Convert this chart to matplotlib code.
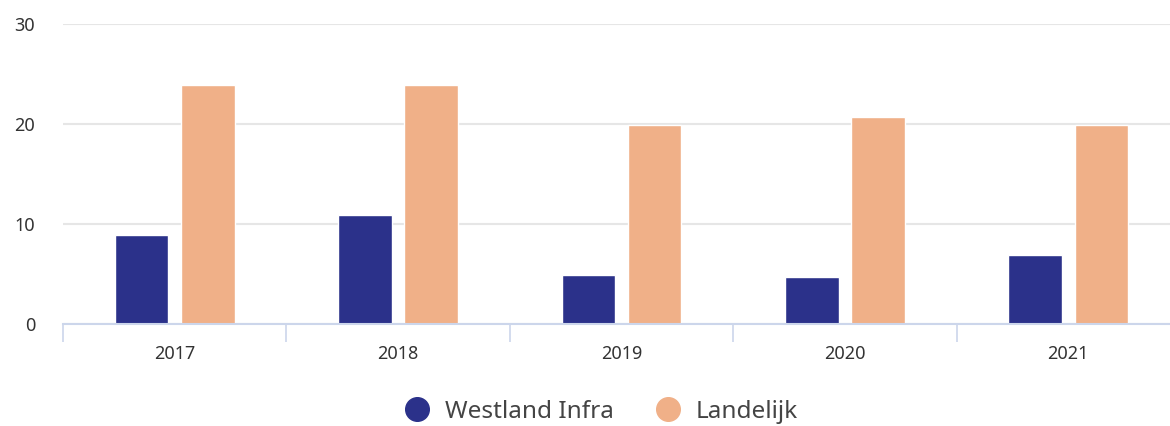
import matplotlib
matplotlib.use("Agg")
import matplotlib.pyplot as plt
from matplotlib.lines import Line2D
import numpy as np

years = ["2017", "2018", "2019", "2020", "2021"]
westland = [8.9, 10.9, 4.9, 4.7, 6.9]
landelijk = [23.9, 23.9, 19.9, 20.7, 19.9]
series_names = ["Westland Infra", "Landelijk"]
colors = ["#2B318A", "#F0B088"]

plt.rcParams['font.family'] = ['Noto Sans', 'DejaVu Sans']

W, H = 1170, 426
fig = plt.figure(figsize=(W / 100, H / 100), dpi=100)
ax = fig.add_axes([63 / W, (H - 324) / H, (1180 - 63) / W, 300 / H])

x = np.arange(len(years))
off = 0.148
bw = 0.24
ax.bar(x - off, westland, bw, color=colors[0], edgecolor="white", linewidth=1, zorder=3)
ax.bar(x + off, landelijk, bw, color=colors[1], edgecolor="white", linewidth=1, zorder=3)

ax.set_xlim(-0.5, len(years) - 0.5)
ax.set_ylim(0, 30)
ax.set_yticks([0, 10, 20, 30])
ax.yaxis.grid(True, color="#E6E6E6", linewidth=1.5, zorder=0)
ax.set_axisbelow(True)

for s in ["top", "right", "left"]:
    ax.spines[s].set_visible(False)
ax.spines["bottom"].set_color("#CCD6EB")
ax.spines["bottom"].set_linewidth(1.5)
ax.spines["bottom"].set_zorder(4)

ax.set_xticks(x)
ax.set_xticklabels(years)
ax.tick_params(axis="x", which="major", length=0, pad=15, labelsize=13, labelcolor="#333333")
ax.set_xticks(np.arange(len(years) + 1) - 0.5, minor=True)
ax.tick_params(axis="x", which="minor", length=13, width=1.2, color="#CCD6EB", direction="out")
ax.tick_params(axis="y", length=0, pad=20, labelsize=13, labelcolor="#333333")

handles = [Line2D([0], [0], marker="o", linestyle="", markersize=17,
                  markerfacecolor=c, markeredgecolor=c) for c in colors]
fig.legend(handles, series_names, loc="center", bbox_to_anchor=(0.509, (H - 412) / H),
           ncol=2, frameon=False, fontsize=17.5, handletextpad=0.15, columnspacing=1.2,
           labelcolor="#444444")

fig.savefig("out.png", dpi=100)
